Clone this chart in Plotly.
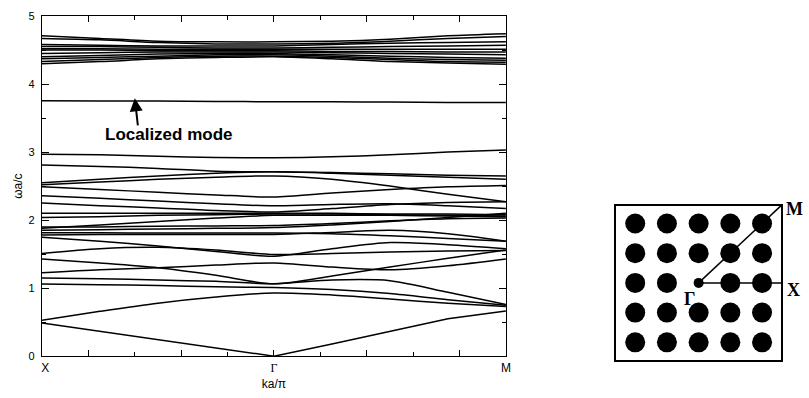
import plotly.graph_objects as go

# k-path coordinate: X = 0, Gamma = 1, M = 2
K = [0, 0.25, 0.5, 0.75, 1.0, 1.25, 1.5, 1.75, 2.0]

# lower bands (omega a / c)
band_01 = [0.49, 0.37, 0.25, 0.12, 0.00, 0.18, 0.37, 0.55, 0.665]
band_02 = [0.53, 0.66, 0.78, 0.87, 0.93, 0.90, 0.84, 0.78, 0.73]
band_03 = [1.06, 1.05, 1.04, 1.02, 1.01, 0.98, 0.92, 0.83, 0.75]
band_04 = [1.15, 1.14, 1.12, 1.10, 1.065, 1.12, 1.11, 0.94, 0.76]
band_05 = [1.43, 1.37, 1.30, 1.19, 1.065, 1.18, 1.31, 1.44, 1.56]
band_06 = [1.225, 1.27, 1.30, 1.34, 1.37, 1.31, 1.27, 1.33, 1.43]
band_07 = [1.51, 1.58, 1.60, 1.56, 1.495, 1.51, 1.53, 1.545, 1.555]
band_08 = [1.75, 1.69, 1.62, 1.54, 1.47, 1.58, 1.67, 1.64, 1.58]
band_09 = [1.78, 1.79, 1.79, 1.79, 1.79, 1.82, 1.85, 1.80, 1.69]
band_10 = [1.815, 1.815, 1.81, 1.81, 1.81, 1.80, 1.77, 1.73, 1.69]
band_11 = [1.85, 1.86, 1.87, 1.88, 1.89, 1.93, 1.98, 2.04, 2.10]
band_12 = [1.88, 1.93, 1.98, 2.03, 2.07, 2.07, 2.07, 2.06, 2.05]
band_13 = [1.90, 1.90, 1.91, 1.915, 1.92, 1.95, 1.99, 2.02, 2.03]
band_14 = [2.04, 2.05, 2.07, 2.08, 2.09, 2.09, 2.08, 2.07, 2.06]
band_15 = [2.10, 2.10, 2.10, 2.10, 2.10, 2.10, 2.09, 2.09, 2.08]
band_16 = [2.25, 2.21, 2.18, 2.14, 2.12, 2.17, 2.23, 2.26, 2.27]
band_17 = [2.36, 2.32, 2.28, 2.24, 2.21, 2.23, 2.24, 2.21, 2.17]
band_18 = [2.49, 2.45, 2.41, 2.37, 2.34, 2.40, 2.45, 2.49, 2.51]
band_19 = [2.52, 2.56, 2.60, 2.63, 2.65, 2.60, 2.50, 2.38, 2.27]
band_20 = [2.55, 2.60, 2.65, 2.69, 2.71, 2.69, 2.66, 2.63, 2.60]
band_21 = [2.81, 2.79, 2.76, 2.72, 2.71, 2.70, 2.68, 2.66, 2.65]
band_22 = [2.97, 2.96, 2.94, 2.92, 2.915, 2.93, 2.96, 3.00, 3.03]
localized_mode = [3.755, 3.75, 3.75, 3.745, 3.74, 3.74, 3.735, 3.73, 3.73]

# upper band group
top_01 = [4.71, 4.67, 4.63, 4.62, 4.62, 4.63, 4.66, 4.71, 4.74]
top_02 = [4.67, 4.65, 4.61, 4.59, 4.59, 4.60, 4.63, 4.67, 4.70]
top_03 = [4.58, 4.57, 4.56, 4.56, 4.56, 4.58, 4.60, 4.61, 4.62]
top_04 = [4.55, 4.55, 4.54, 4.53, 4.53, 4.54, 4.55, 4.56, 4.57]
top_05 = [4.52, 4.52, 4.51, 4.51, 4.51, 4.51, 4.51, 4.51, 4.51]
top_06 = [4.50, 4.50, 4.49, 4.49, 4.49, 4.48, 4.48, 4.47, 4.47]
top_07 = [4.45, 4.46, 4.47, 4.47, 4.47, 4.46, 4.45, 4.44, 4.43]
top_08 = [4.40, 4.42, 4.44, 4.45, 4.45, 4.43, 4.41, 4.39, 4.38]
top_09 = [4.37, 4.39, 4.41, 4.43, 4.43, 4.41, 4.38, 4.36, 4.35]
top_10 = [4.33, 4.36, 4.39, 4.41, 4.41, 4.39, 4.36, 4.33, 4.32]
top_11 = [4.30, 4.33, 4.37, 4.39, 4.40, 4.37, 4.33, 4.31, 4.29]

bands = [band_02, band_03, band_04, band_05, band_06, band_07, band_08, band_09,
         band_10, band_11, band_12, band_13, band_14, band_15, band_16, band_17,
         band_18, band_19, band_20, band_21, band_22, localized_mode,
         top_01, top_02, top_03, top_04, top_05, top_06, top_07, top_08,
         top_09, top_10, top_11]

# k-axis tick labels
k_tickvals = [0, 0.2, 0.6, 1.0, 1.4, 1.8, 2.0]
k_ticktext = ["  X", "", "",
              '<span style="font-family:Liberation Serif, Times New Roman, serif">Γ</span>',
              "", "", "M"]
k_minor = [0.4, 0.8, 1.2, 1.6]

# inset: square lattice of rods
lattice_cols = [1, 2, 3, 4, 5]
lattice_rows = [1, 2, 3, 4, 5]
gamma_pt = (3, 3)
x_pt = (5.6, 3)
m_pt = (5.6, 5.6)

FONT = "Arial, Liberation Sans, Helvetica, sans-serif"
SERIF = "Times New Roman, Liberation Serif, serif"

fig = go.Figure()

fig.add_trace(go.Scatter(x=K, y=band_01, mode="lines",
                         line=dict(color="black", width=1.5),
                         showlegend=False, hoverinfo="skip"))
for b in bands:
    fig.add_trace(go.Scatter(x=K, y=b, mode="lines",
                             line=dict(color="black", width=1.5, shape="spline", smoothing=0.8),
                             showlegend=False, hoverinfo="skip"))

# inset lattice
lx, ly = [], []
for r in lattice_rows:
    for c in lattice_cols:
        if (c, r) != gamma_pt:
            lx.append(c)
            ly.append(r)

fig.add_trace(go.Scatter(x=[gamma_pt[0], x_pt[0]], y=[gamma_pt[1], x_pt[1]], mode="lines",
                         line=dict(color="black", width=1.5), xaxis="x2", yaxis="y2",
                         showlegend=False, hoverinfo="skip", cliponaxis=False))
fig.add_trace(go.Scatter(x=[gamma_pt[0], m_pt[0]], y=[gamma_pt[1], m_pt[1]], mode="lines",
                         line=dict(color="black", width=1.5), xaxis="x2", yaxis="y2",
                         showlegend=False, hoverinfo="skip", cliponaxis=False))
fig.add_trace(go.Scatter(x=lx, y=ly, mode="markers",
                         marker=dict(color="black", size=20, line=dict(width=0)),
                         xaxis="x2", yaxis="y2", showlegend=False, hoverinfo="skip"))
fig.add_trace(go.Scatter(x=[gamma_pt[0]], y=[gamma_pt[1]], mode="markers",
                         marker=dict(color="black", size=10, line=dict(width=0)),
                         xaxis="x2", yaxis="y2", showlegend=False, hoverinfo="skip"))

W, H = 809, 398
ML, MR, MT, MB = 42, 10, 10, 30
pw = W - ML - MR
ph = H - MT - MB

main_right_px = 509
main_bottom_px = 358
inset_l, inset_r, inset_t, inset_b = 620, 786, 204, 362


def px_x(px):
    return (px - ML) / pw


def px_y(py):
    return (H - MB - py) / ph


fig.update_layout(
    width=W, height=H,
    margin=dict(l=ML, r=MR, t=MT, b=MB),
    paper_bgcolor="white", plot_bgcolor="white",
    font=dict(family=FONT, color="black", size=11),
    xaxis=dict(
        domain=[0, px_x(main_right_px)],
        range=[0, 2], showgrid=False, zeroline=False,
        showline=True, linecolor="black", linewidth=1.2, mirror="ticks",
        ticks="inside", ticklen=6, tickwidth=1, tickcolor="black",
        tickmode="array", tickvals=k_tickvals, ticktext=k_ticktext,
        tickfont=dict(family=FONT, size=12, color="black"),
        minor=dict(tickmode="array", tickvals=k_minor, ticks="inside", ticklen=4,
                   tickwidth=1, tickcolor="black", showgrid=False),
        title=dict(text="ka/π", font=dict(family=FONT, size=12, color="black"), standoff=5),
        anchor="y",
    ),
    yaxis=dict(
        domain=[px_y(main_bottom_px), 1],
        range=[0, 5], showgrid=False, zeroline=False,
        showline=True, linecolor="black", linewidth=1.2, mirror="ticks",
        ticks="inside", ticklen=7, tickwidth=1, tickcolor="black",
        tickmode="array", tickvals=[0, 1, 2, 3, 4, 5],
        tickfont=dict(family=FONT, size=11, color="black"),
        ticklabelstandoff=4,
        minor=dict(tickmode="array", tickvals=[0.5, 1.5, 2.5, 3.5, 4.5], ticks="inside",
                   ticklen=4, tickwidth=1, tickcolor="black", showgrid=False),
        title=dict(text="ωa/c", font=dict(family=FONT, size=12, color="black"), standoff=3),
        anchor="x",
    ),
    xaxis2=dict(
        domain=[px_x(inset_l), px_x(inset_r)],
        range=[0.4, 5.6], showgrid=False, zeroline=False, showticklabels=False,
        showline=True, linecolor="black", linewidth=1.5, mirror=True, ticks="",
        anchor="y2",
    ),
    yaxis2=dict(
        domain=[px_y(inset_b), px_y(inset_t)],
        range=[0.4, 5.6], showgrid=False, zeroline=False, showticklabels=False,
        showline=True, linecolor="black", linewidth=1.5, mirror=True, ticks="",
        anchor="x2",
    ),
    annotations=[
        dict(x=0.549, y=3.26, xref="x", yref="y", text="<b>Localized mode</b>",
             showarrow=False, font=dict(family=FONT, size=17, color="black")),
        dict(x=0.40, y=3.79, xref="x", yref="y", ax=0.414, ay=3.37, axref="x", ayref="y",
             text="", showarrow=True, arrowhead=2, arrowsize=1.3, arrowwidth=2,
             arrowcolor="black"),
        dict(x=px_x(789), y=px_y(207), xref="paper", yref="paper", text="<b>M</b>",
             showarrow=False, xanchor="left", yanchor="middle",
             font=dict(family=SERIF, size=18, color="black")),
        dict(x=px_x(790), y=px_y(290), xref="paper", yref="paper", text="<b>X</b>",
             showarrow=False, xanchor="left", yanchor="middle",
             font=dict(family=SERIF, size=18, color="black")),
        dict(x=px_x(694), y=px_y(299), xref="paper", yref="paper", text="<b>Γ</b>",
             showarrow=False, xanchor="center", yanchor="middle",
             font=dict(family=SERIF, size=18, color="black")),
    ],
)

fig.write_html("out.html")
